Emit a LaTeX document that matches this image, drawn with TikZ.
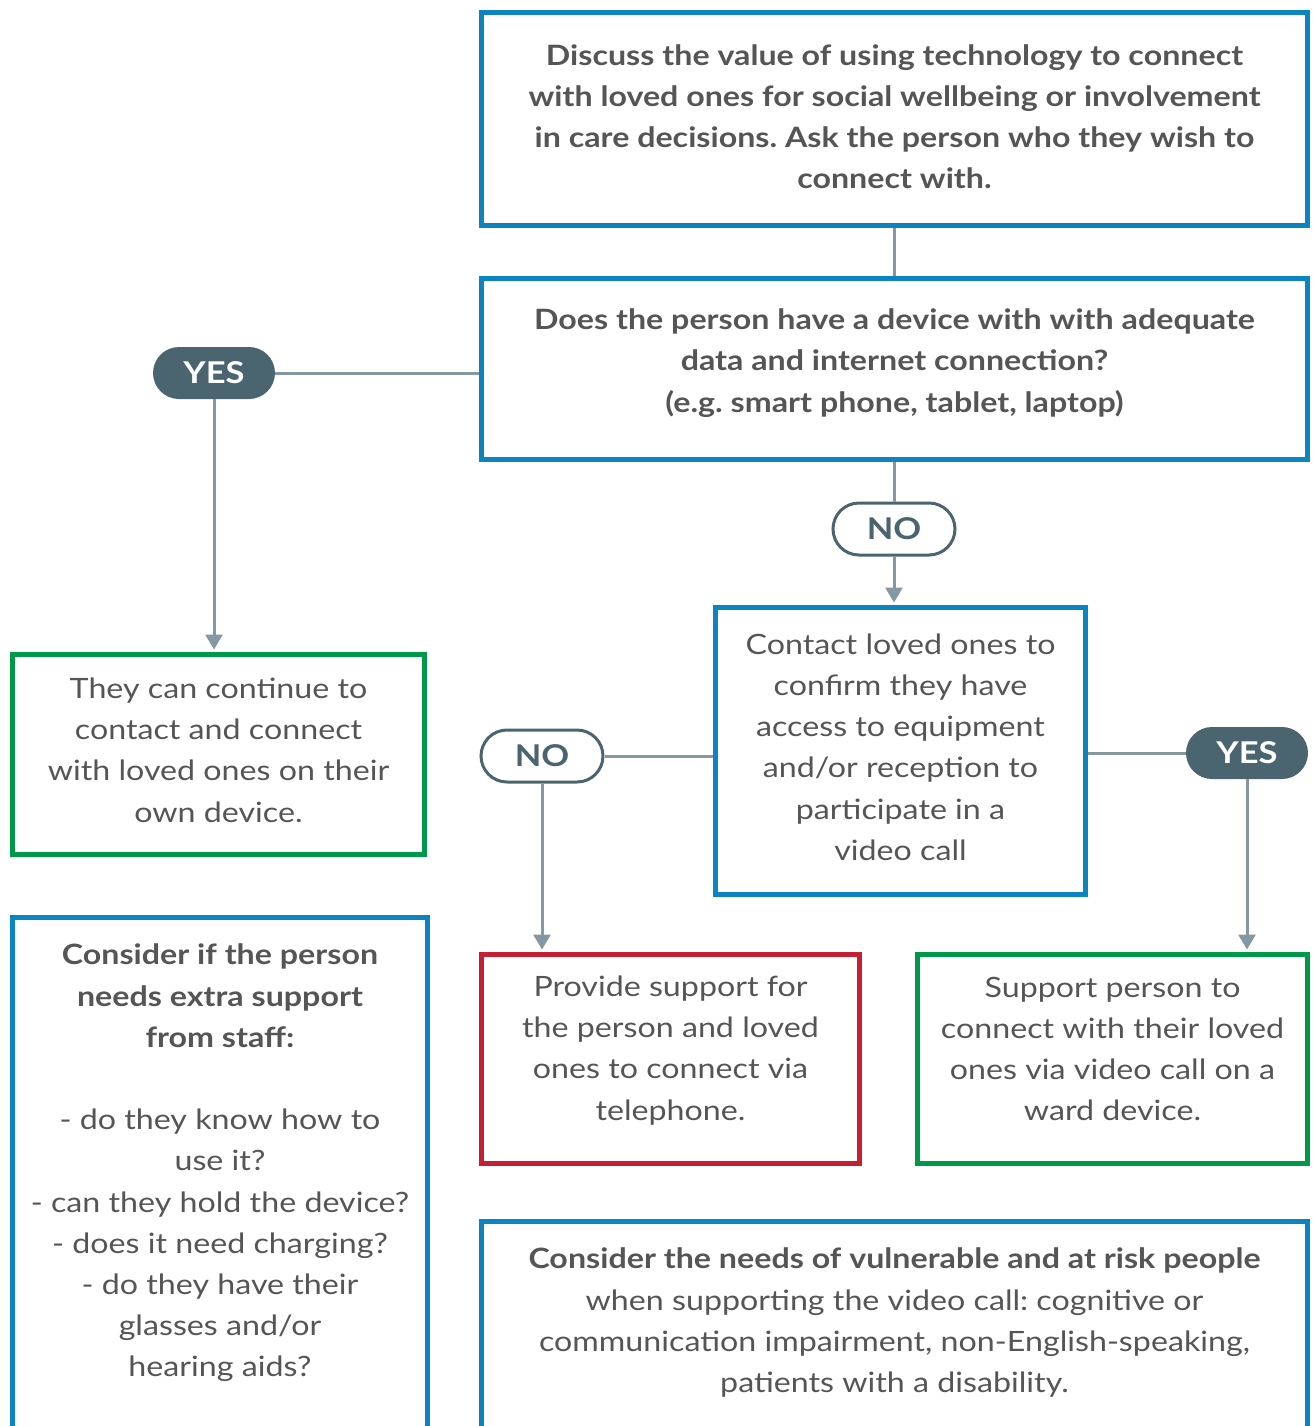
\documentclass[tikz,border=0pt]{standalone}
\usepackage{fontspec}
\setmainfont{Lato}[FakeStretch=1.15]
\usepackage{xcolor}
\usetikzlibrary{arrows.meta}
\frenchspacing

\definecolor{boxblue}{HTML}{0B84C1}
\definecolor{boxgreen}{HTML}{00994A}
\definecolor{boxred}{HTML}{C61F33}
\definecolor{slate}{HTML}{4A6570}
\definecolor{linegray}{HTML}{8497A2}
\definecolor{txtgray}{HTML}{555555}

\tikzset{
  box/.style={draw, line width=2.5pt, align=center, inner sep=0pt,
    text=txtgray, font=\fontsize{14}{20.6}\selectfont},
  bluebox/.style={box, draw=boxblue},
  greenbox/.style={box, draw=boxgreen},
  redbox/.style={box, draw=boxred},
  boldtext/.style={font=\fontsize{14}{20.6}\selectfont\bfseries},
  pill/.style={rectangle, rounded corners=13pt, minimum width=61pt,
    minimum height=26pt, inner sep=0pt, font=\fontsize{15}{18}\selectfont\bfseries},
  yespill/.style={pill, fill=slate, text=white},
  nopill/.style={pill, draw=slate, line width=1.5pt, fill=white, text=slate},
  conn/.style={draw=linegray, line width=1.5pt},
}

\begin{document}
\begin{tikzpicture}[x=0.5pt,y=0.5pt,>={Triangle[width=8.5pt,length=7.5pt]}]
\useasboundingbox (0,0) rectangle (1313,-1426);

    % question boxes
    \node[bluebox, boldtext, minimum width=413pt, minimum height=106.5pt, text depth=2.5pt] (discuss) at (894.5,-119)
        {Discuss the value of using technology to connect\\
         with loved ones for social wellbeing or involvement\\
         in care decisions. Ask the person who they wish to\\
         connect with.};
    \node[bluebox, boldtext, minimum width=413pt, minimum height=90.5pt, text depth=8.5pt] (device) at (894.5,-369)
        {Does the person have a device with with adequate\\
         data and internet connection?\\
         (e.g. smart phone, tablet, laptop)};
    \node[bluebox, minimum width=185pt, minimum height=143.5pt, text depth=4pt] (contact) at (900.5,-751)
        {Contact loved ones to\\ confirm they have\\ access to equipment\\
         and/or reception to\\ participate in a\\ video call};

    % outcome boxes
    \node[greenbox, minimum width=206pt, minimum height=100pt, text depth=4.5pt] (own) at (218.5,-754.5)
        {They can continue to\\ contact and connect\\ with loved ones on their\\ own device.};
    \node[redbox, minimum width=189pt, minimum height=104.5pt, text depth=11pt] (phone) at (670.5,-1059)
        {Provide support for\\ the person and loved\\ ones to connect via\\ telephone.};
    \node[greenbox, minimum width=195pt, minimum height=104.5pt, text depth=10pt] (ward) at (1112.5,-1059)
        {Support person to\\ connect with their loved\\ ones via video call on a\\ ward device.};

    % notes, cut by the page edge
    \node[bluebox, minimum width=207.5pt, minimum height=300pt, anchor=north] (staff) at (220,-914.5) {};
    \node[box, draw=none, anchor=north] (stafftext) at ([yshift=-13.5pt]staff.north)
        {\textbf{Consider if the person}\\ \textbf{needs extra support}\\ \textbf{from staff:}\\[20.6pt]
         - do they know how to\\ use it?\\ - can they hold the device?\\
         - does it need charging?\\ - do they have their\\ glasses and/or\\ hearing aids?};
    \node[bluebox, minimum width=413pt, minimum height=200pt, anchor=north] (needs) at (894.5,-1218.5) {};
    \node[box, draw=none, anchor=north] (needstext) at ([yshift=-13.5pt]needs.north)
        {\textbf{Consider the needs of vulnerable and at risk people}\\
         when supporting the video call: cognitive or\\
         communication impairment, non-English-speaking,\\
         patients with a disability.};

    % answers
    \node[yespill] (yesown) at (214,-373) {YES};
    \node[nopill] (noask) at (894,-529) {NO};
    \node[nopill] (nophone) at (542,-756) {NO};
    \node[yespill] (yesward) at (1247,-753) {YES};

    \draw[conn] (discuss.south) -- (device.north);
    \draw[conn] (yesown.east) -- (yesown.east -| device.west);
    \draw[conn,->,shorten >=1.25pt] (yesown.south) -- (yesown.south |- own.north);
    \draw[conn] (noask.north |- device.south) -- (noask.north);
    \draw[conn,->,shorten >=1.25pt] (noask.south) -- (noask.south |- contact.north);
    \draw[conn] (nophone.east) -- (nophone.east -| contact.west);
    \draw[conn,->,shorten >=1.25pt] (nophone.south) -- (nophone.south |- phone.north);
    \draw[conn] (yesward.west -| contact.east) -- (yesward.west);
    \draw[conn,->,shorten >=1.25pt] (yesward.south) -- (yesward.south |- ward.north);

\end{tikzpicture}
\end{document}
